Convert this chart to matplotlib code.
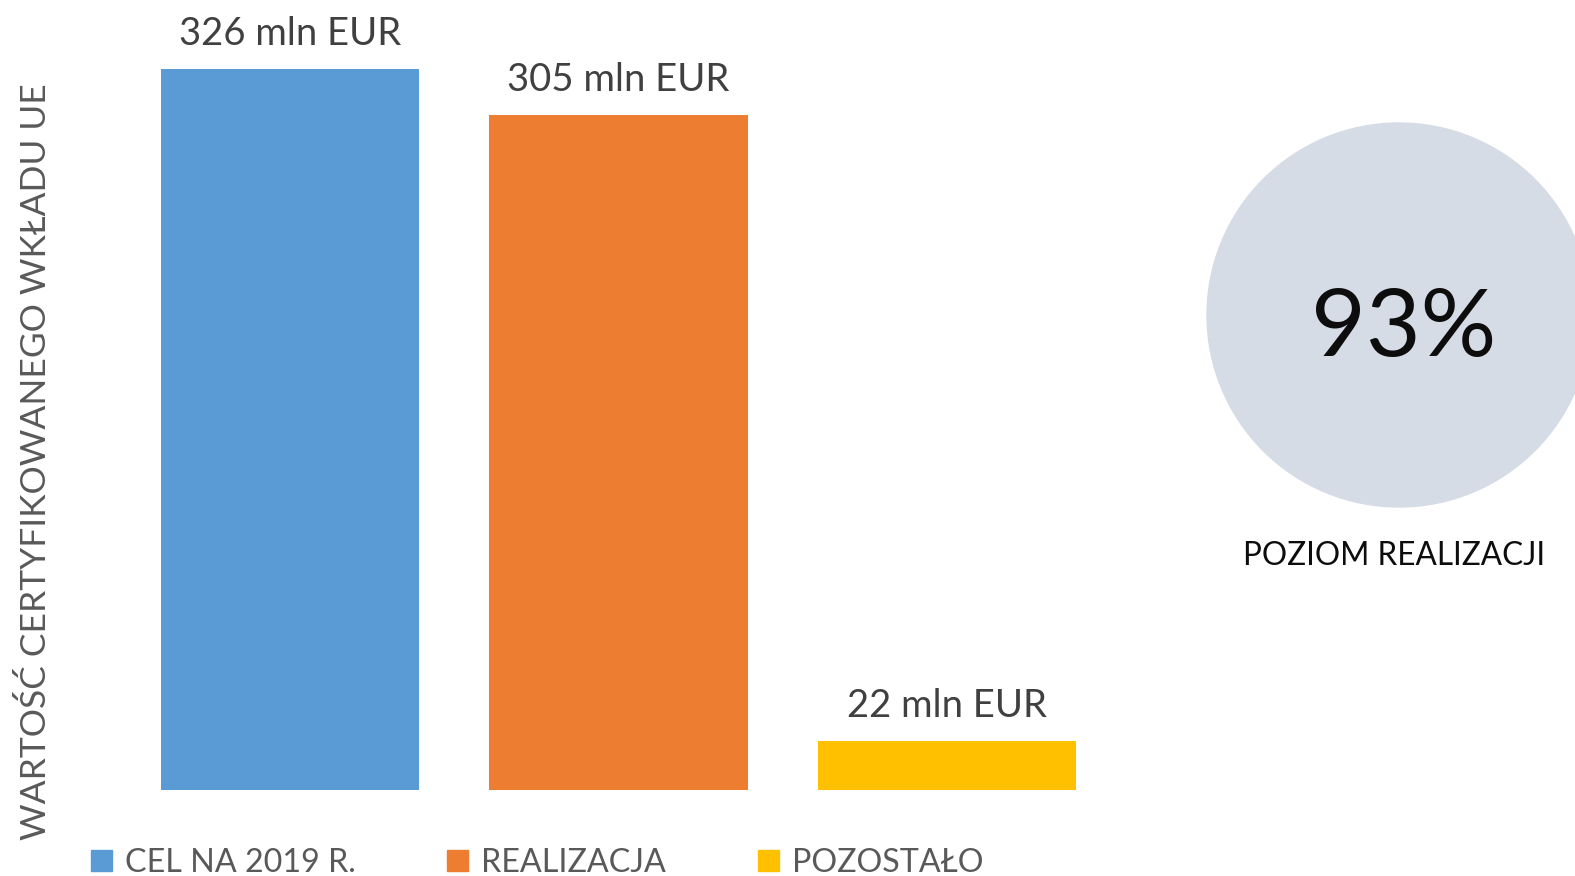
import matplotlib.pyplot as plt
import matplotlib.patches as mpatches
from matplotlib.patches import Circle

plt.rcParams['font.family'] = ['Lato', 'DejaVu Sans']

categories = ["CEL NA 2019 R.", "REALIZACJA", "POZOSTAŁO"]
values = [326, 305, 22]
labels = ["326 mln EUR", "305 mln EUR", "22 mln EUR"]
colors = ["#5B9BD5", "#ED7D31", "#FFC000"]
percent_text = "93%"
percent_caption = "POZIOM REALIZACJI"
ylabel = "WARTOŚĆ CERTYFIKOWANEGO WKŁADU UE"

W, H = 1575, 876
fig = plt.figure(figsize=(W / 100, H / 100), dpi=100)

# bar axes placed in pixel terms
ax = fig.add_axes([161 / W, 1 - 790 / H, (1076 - 161) / W, 721 / H])
width = 259 / 329
x = list(range(len(values)))
ax.bar(x, values, width=width, color=colors)
ax.set_xlim(-width / 2, len(values) - 1 + width / 2)
ax.set_ylim(0, 326)
for xi, v, lab in zip(x, values, labels):
    ax.text(xi, v + 16, lab, ha="center", va="center", fontsize=27.5,
            color="#404040", clip_on=False)
ax.axis("off")

fig.text(36 / W, 1 - 462 / H, ylabel, rotation=90, ha="center", va="center",
         fontsize=25.5, color="#595959")

# circle with percent
cax = fig.add_axes([0, 0, 1, 1])
cax.set_xlim(0, W)
cax.set_ylim(H, 0)
cax.axis("off")
cax.add_patch(Circle((1399, 315), 192, color="#D6DCE5"))
cax.text(1404, 330, percent_text, ha="center", va="center", fontsize=68,
         color="#0D0D0D")
cax.text(1394, 556, percent_caption, ha="center", va="center", fontsize=22.7,
         color="#0D0D0D")

handles = [mpatches.Patch(color=c, label=l) for c, l in zip(colors, categories)]
fig.legend(handles=handles, loc="center left", bbox_to_anchor=(62 / W, 1 - 863 / H),
           ncol=3, frameon=False, fontsize=23.2, handlelength=0.65, handleheight=0.65,
           handletextpad=0.4, columnspacing=2.85, labelcolor="#595959")

fig.savefig("out.png", dpi=100)
